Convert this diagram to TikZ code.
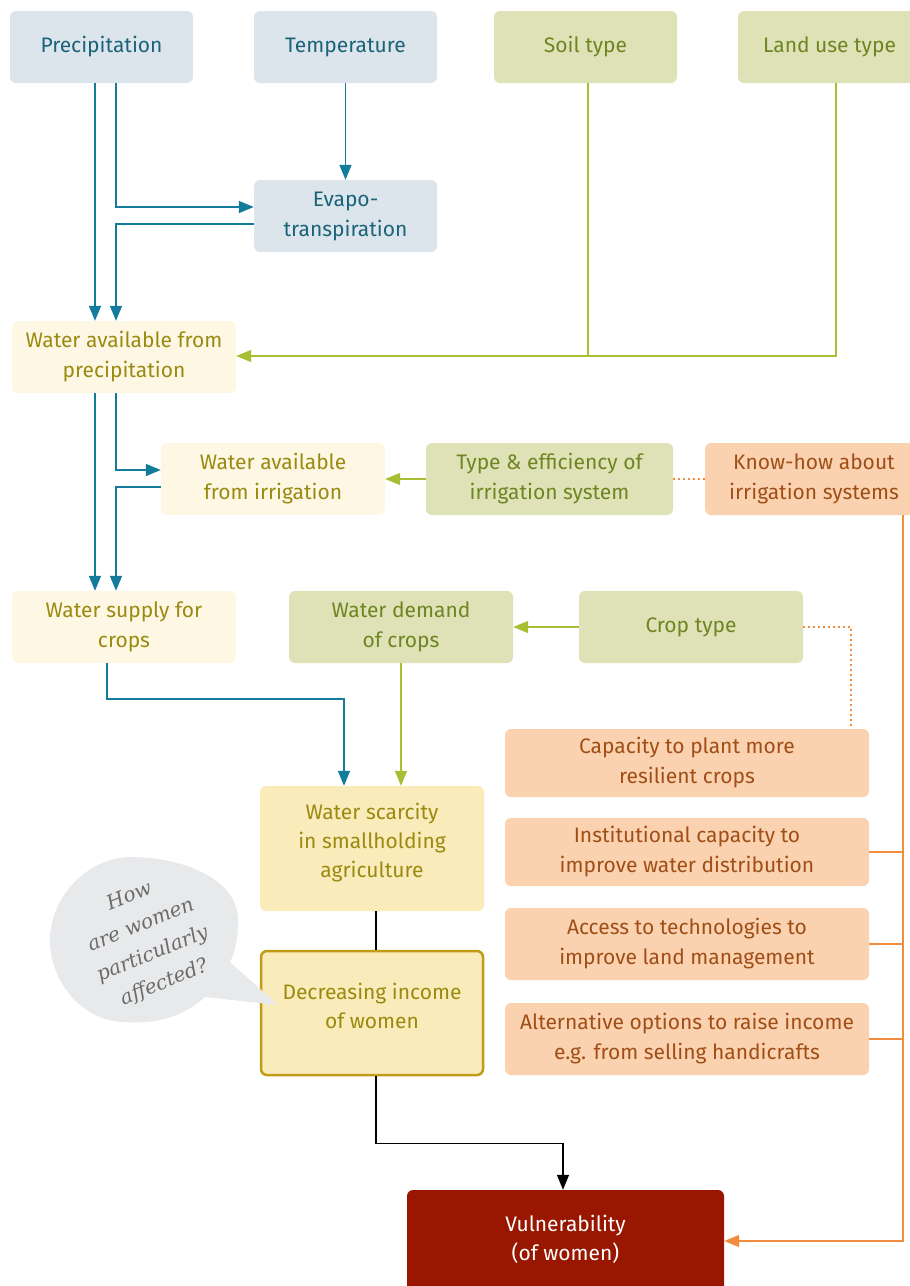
\documentclass[tikz,border=0pt]{standalone}
\usepackage{fontspec}
\setmainfont{Fira Sans}
\newfontfamily\bubblefont{DejaVu Serif}
\usetikzlibrary{arrows.meta}

\definecolor{bluefill}{HTML}{DDE5EC}
\definecolor{bluetext}{HTML}{1A6379}
\definecolor{blueline}{HTML}{137C9A}
\definecolor{greenfill}{HTML}{DFE2B6}
\definecolor{greentext}{HTML}{6E8522}
\definecolor{greenline}{HTML}{A9BE33}
\definecolor{creamfill}{HTML}{FEF7E4}
\definecolor{goldtext}{HTML}{9A8A10}
\definecolor{scarcefill}{HTML}{FAEBBA}
\definecolor{goldline}{HTML}{BF9B17}
\definecolor{orangefill}{HTML}{FBD2AF}
\definecolor{orangetext}{HTML}{A04E17}
\definecolor{orangeline}{HTML}{F28C3F}
\definecolor{vulnfill}{HTML}{991600}
\definecolor{bubblefill}{HTML}{E8E9EB}
\definecolor{bubbletext}{HTML}{6B6B6B}

\begin{document}
\begin{tikzpicture}[x=1pt,y=-1pt,
  box/.style={rounded corners=6pt, inner sep=0pt, align=center,
    font=\fontsize{21}{30}\selectfont},
  bluebox/.style={box, fill=bluefill, text=bluetext, minimum width=183pt, minimum height=72pt},
  greenbox/.style={box, fill=greenfill, text=greentext, minimum height=72pt},
  creambox/.style={box, fill=creamfill, text=goldtext, minimum width=224pt, minimum height=72pt},
  orangebox/.style={box, fill=orangefill, text=orangetext, minimum width=364pt},
  lbl/.style={inner sep=0pt, align=center, font=\fontsize{21}{29}\selectfont},
  tip/.style={-{Triangle[length=15pt,width=12pt]}},
  bline/.style={draw=blueline, line width=1.5pt},
  barrow/.style={bline, tip, blueline},
  gline/.style={draw=greenline, line width=1.5pt},
  garrow/.style={gline, tip, greenline},
  oline/.style={draw=orangeline, line width=1.5pt},
  oarrow/.style={oline, tip, orangeline},
  odots/.style={draw=orangeline, line width=2pt, dash pattern=on 2pt off 3pt},
  kline/.style={draw=black, line width=1.3pt},
  karrow/.style={kline, tip}
]
\useasboundingbox (0,0) rectangle (910,1286);

% ---- climate and site factors
\node[bluebox] (prec) at (101.5,47) {Precipitation};
\node[bluebox] (temp) at (345.5,47) {Temperature};
\node[greenbox, minimum width=183pt] (soil) at (585.5,47) {Soil type};
\node[greenbox, minimum width=183pt] (land) at (829.5,47) {Land use type};
\node[bluebox] (evapo) at (345.5,216) {Evapo-\\transpiration};

% ---- water balance
\node[creambox] (wap) at (124,357) {Water available from\\precipitation};
\node[creambox] (wai) at (273,479) {Water available\\from irrigation};
\node[greenbox, minimum width=247pt] (type) at (549.5,479) {Type \& efficiency of\\irrigation system};
\node[box, fill=orangefill, text=orangetext, minimum width=218pt, minimum height=72pt] (know) at (814,479) {Know-how about\\irrigation systems};
\node[creambox] (wsc) at (124,627) {Water supply for\\crops};
\node[greenbox, minimum width=224pt] (wdem) at (401,627) {Water demand\\of crops};
\node[greenbox, minimum width=224pt] (crop) at (691,627) {Crop type};

% ---- capacities
\node[orangebox, minimum height=68pt] (cap) at (687,763) {Capacity to plant more\\resilient crops};
\node[orangebox, minimum height=68pt] (inst) at (687,852) {Institutional capacity to\\improve water distribution};
\node[orangebox, minimum height=72pt] (access) at (687,944) {Access to technologies to\\improve land management};
\node[orangebox, minimum height=72pt] (alt) at (687,1039) {Alternative options to raise income\\e.g. from selling handicrafts};

% ---- impact chain
\node[rounded corners=6pt, fill=scarcefill, minimum width=224pt, minimum height=125pt] (scarce) at (372,848.5) {};
\node[lbl, text=goldtext] (scarce-t) at (372,843) {Water scarcity\\in smallholding\\agriculture};
\node[rounded corners=6pt, fill=scarcefill, draw=goldline, line width=2.5pt,
  minimum width=222pt, minimum height=124pt] (dec) at (372,1013) {};
\node[lbl, text=goldtext] (dec-t) at (372,1006) {Decreasing income\\of women};
\node[rounded corners=6pt, fill=vulnfill, minimum width=317pt, minimum height=110pt] (vuln) at (565.5,1245) {};
\node[lbl, text=white] (vuln-t) at (565.5,1239) {Vulnerability\\(of women)};

% ---- speech bubble
\fill[bubblefill] (230,962) -- (278,1005) -- (205,997)
  .. controls (180,1020) and (150,1024) .. (123,1022)
  .. controls (80,1020) and (50,980) .. (50,940)
  .. controls (50,895) and (90,857) .. (130,857)
  .. controls (185,857) and (238,880) .. (238,920)
  .. controls (238,940) and (235,952) .. (230,962) -- cycle;
\node[inner sep=0pt, align=center, rotate=22, text=bubbletext,
  font=\bubblefont\itshape\fontsize{20}{31}\selectfont] (ask) at (147,940)
  {How\\are women\\particularly\\affected?};

% ---- blue connectors
\draw[barrow] ([xshift=-6.5pt]prec.south) -- ([xshift=-29pt]wap.north);
\draw[barrow] ([xshift=14.5pt]prec.south) |- ([yshift=9pt]evapo.west);
\draw[barrow] ([yshift=-8pt]evapo.west) -| ([xshift=-8pt]wap.north);
\draw[barrow] (temp.south) -- (evapo.north);
\draw[barrow] ([xshift=-29pt]wap.south) -- ([xshift=-29pt]wsc.north);
\draw[barrow] ([xshift=-8pt]wap.south) |- ([yshift=9pt]wai.west);
\draw[barrow] ([yshift=-8pt]wai.west) -| ([xshift=-8pt]wsc.north);
\draw[barrow] ([xshift=-17pt]wsc.south) -- ++(0,36) -| ([xshift=-28pt]scarce.north);

% ---- green connectors
\coordinate (soiljoin) at (588,356);
\draw[gline] ([xshift=2.5pt]soil.south) -- (soiljoin);
\draw[garrow] ([xshift=6.5pt]land.south) |- ([yshift=1pt]wap.east);
\draw[garrow] (type.west) -- (wai.east);
\draw[garrow] (crop.west) -- (wdem.east);
\draw[garrow] (wdem.south) -- ([xshift=29pt]scarce.north);

% ---- orange connectors
\draw[odots] (type.east) -- (know.west);
\draw[odots] (crop.east) -| ([xshift=164pt]cap.north);
\coordinate (trunk) at (903,515);
\draw[oarrow] ([xshift=89pt]know.south) |- ([yshift=4pt]vuln.east);
\draw[oline] (inst.east) -- (inst.east -| trunk);
\draw[oline] (access.east) -- (access.east -| trunk);
\draw[oline] (alt.east) -- (alt.east -| trunk);

% ---- black connectors
\draw[kline] ([xshift=4pt]scarce.south) -- ([xshift=4pt]dec.north);
\draw[karrow] ([xshift=4pt]dec.south) -- ++(0,67) -| ([xshift=-2.5pt]vuln.north);
\end{tikzpicture}
\end{document}
